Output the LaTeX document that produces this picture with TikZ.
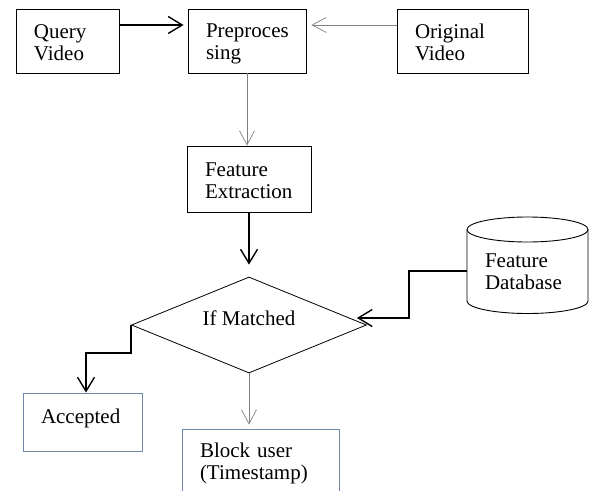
\documentclass[tikz,border=0pt]{standalone}
\usepackage{fontspec}
\setmainfont{Liberation Serif}
\usepackage{tikz}
\usetikzlibrary{shapes.geometric, arrows.meta, calc}

\definecolor{boxblue}{RGB}{112,136,170}
\definecolor{linegray}{RGB}{128,128,128}

% struts that keep two-line labels at the same height
\newcommand{\topstrut}{\rule{0pt}{20.5pt}}
\newcommand{\botstrut}{\rule[-4.5pt]{0pt}{4.5pt}}

\begin{document}
\begin{tikzpicture}[x=1pt, y=-1pt,
    font=\fontsize{21}{22}\selectfont,
    procbox/.style={draw, line width=0.9pt, rectangle, align=left,
        inner xsep=18pt, inner ysep=0pt,
        execute at begin node=\topstrut, execute at end node=\botstrut},
    endbox/.style={procbox, draw=boxblue},
    boldarrow/.style={line width=1.6pt, -{Straight Barb[length=14pt, width=17pt, line width=1.4pt]}},
    thinarrow/.style={line width=0.8pt, linegray, -{Straight Barb[length=14pt, width=15pt, line width=0.7pt]}}]
    \useasboundingbox (0,0) rectangle (589,490);
    \clip (0,0) rectangle (589,490);

    % Input side
    \node[procbox, minimum width=103pt, minimum height=64pt, text width=67pt]
        (query) at (67.5,41) {Query\\Video};
    \node[procbox, minimum width=118pt, minimum height=64pt, text width=82pt]
        (prep) at (247,41) {Preproces\\sing};
    \node[procbox, minimum width=131pt, minimum height=64pt, text width=95pt]
        (orig) at (462.5,41) {Original\\Video};
    \node[procbox, minimum width=124pt, minimum height=66pt, text width=88pt]
        (feat) at (249,179) {Feature\\Extraction};

    % Decision
    \node[draw, diamond, line width=0.8pt, minimum width=235pt, minimum height=96pt,
        inner sep=0pt, aspect=2.45, text height=14pt, text depth=14pt]
        (match) at (249,325) {If Matched};

    % Database cylinder
    \draw[line width=0.9pt] (467,229.5) -- (467,301)
        arc[start angle=180, end angle=360, x radius=60.5pt, y radius=12.5pt]
        -- (588,229.5);
    \draw[line width=0.9pt] (527.5,229.5) ellipse[x radius=60.5pt, y radius=12.5pt];
    \node[align=left, text width=85pt, inner xsep=18pt, minimum width=121pt]
        (fdb) at (527.5,272) {Feature\\Database};

    % Outcomes
    \node[endbox, minimum width=119pt, minimum height=58pt, text width=83pt,
        execute at begin node={}, execute at end node={},
        text height=15pt, text depth=13pt]
        (acc) at (82.5,422) {Accepted};
    \node[endbox, minimum width=157pt, minimum height=62pt, text width=121pt]
        (block) at (260.5,460) {Block user\\(Timestamp)};

    % Connectors
    \draw[boldarrow] ([yshift=16pt]query.east) -- ([yshift=16pt,xshift=-4pt]prep.west);
    \draw[thinarrow, shorten >=5pt] ([yshift=16pt]orig.west) -- ([yshift=16pt]prep.east);
    \draw[thinarrow] (prep.south) -- (prep.south |- feat.north);
    \draw[boldarrow, shorten >=12pt] (feat.south) -- (match.north);
    \draw[boldarrow] ([yshift=1pt]fdb.west) -- ++(-58,0)
        |- ([xshift=-10pt,yshift=7pt]match.east);
    \draw[boldarrow] (match.west) -- ++(0,28) -| ([xshift=3.5pt]acc.north);
    \draw[thinarrow, shorten >=4pt] (match.south) -- (match.south |- block.north);
\end{tikzpicture}
\end{document}
